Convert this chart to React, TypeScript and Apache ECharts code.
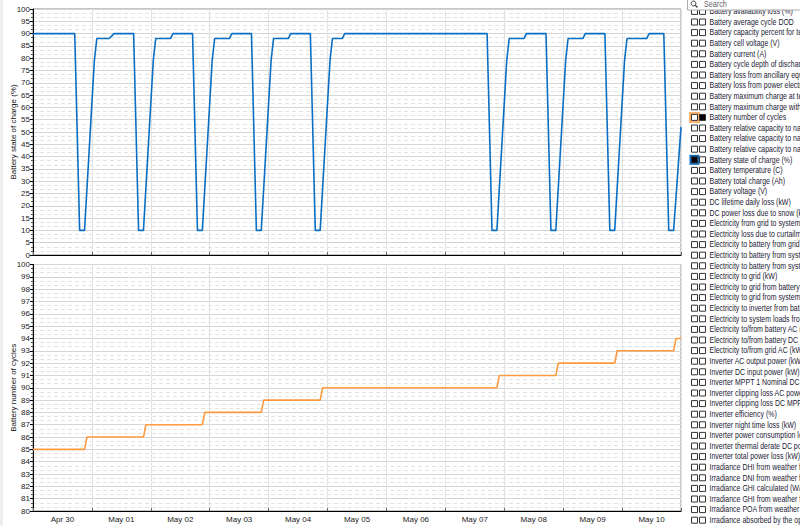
import { useEffect, useRef } from 'react';
import * as echarts from 'echarts';

// Time axis is in hours from Apr 30 00:00
const dayLabels = ['Apr 30', 'May 01', 'May 02', 'May 03', 'May 04', 'May 05', 'May 06', 'May 07', 'May 08', 'May 09', 'May 10'];

const socHours = [
    0, 17, 18, 19, 21, 25, 26, 31, 32, 33,
    41, 42, 43, 45, 49, 50, 56, 57,
    65, 66, 67, 69, 73, 74, 80, 81,
    89, 90, 91, 93, 97, 98, 104, 105,
    113, 114, 115, 117, 121, 122, 126, 127,
    185, 186, 187, 189, 193, 194, 200, 201,
    209, 210, 211, 213, 217, 218, 224, 225,
    233, 234, 235, 237, 241, 242, 250, 251,
    257, 258, 259, 261, 264,
];
const socValues = [
    90, 90, 50, 10, 10, 79, 88, 88, 89, 90,
    90, 50, 10, 10, 79, 88, 88, 90,
    90, 50, 10, 10, 79, 88, 88, 90,
    90, 50, 10, 10, 79, 88, 88, 90,
    90, 50, 10, 10, 79, 88, 88, 90,
    90, 50, 10, 10, 79, 88, 88, 90,
    90, 50, 10, 10, 79, 88, 88, 90,
    90, 50, 10, 10, 79, 88, 88, 90,
    90, 50, 10, 10, 52,
];

const cycleHours = [0, 21, 22, 45, 46, 69, 70, 93, 94, 117, 118, 189, 190, 213, 214, 237, 238, 261, 262, 264];
const cycleValues = [85, 85, 86, 86, 87, 87, 88, 88, 89, 89, 90, 90, 91, 91, 92, 92, 93, 93, 94, 94];

const variableNames = [
    'Battery availability loss (%)',
    'Battery average cycle DOD',
    'Battery capacity percent for temperature (%)',
    'Battery cell voltage (V)',
    'Battery current (A)',
    'Battery cycle depth of discharge (%)',
    'Battery loss from ancillary equipment (kW)',
    'Battery loss from power electronics (kW)',
    'Battery maximum charge at temperature (Ah)',
    'Battery maximum charge with degradation (Ah)',
    'Battery number of cycles',
    'Battery relative capacity to nameplate (%)',
    'Battery relative capacity to nameplate (calendar) (%)',
    'Battery relative capacity to nameplate (cycling) (%)',
    'Battery state of charge (%)',
    'Battery temperature (C)',
    'Battery total charge (Ah)',
    'Battery voltage (V)',
    'DC lifetime daily loss (kW)',
    'DC power loss due to snow (kW)',
    'Electricity from grid to system (kW)',
    'Electricity loss due to curtailment (kW)',
    'Electricity to battery from grid (kW)',
    'Electricity to battery from system (kW)',
    'Electricity to battery from system DC (kW)',
    'Electricity to grid (kW)',
    'Electricity to grid from battery (kW)',
    'Electricity to grid from system (kW)',
    'Electricity to inverter from battery (kW)',
    'Electricity to system loads from battery (kW)',
    'Electricity to/from battery AC (kW)',
    'Electricity to/from battery DC (kW)',
    'Electricity to/from grid AC (kW)',
    'Inverter AC output power (kW)',
    'Inverter DC input power (kW)',
    'Inverter MPPT 1 Nominal DC voltage (V)',
    'Inverter clipping loss AC power limit (kW)',
    'Inverter clipping loss DC MPPT voltage limits (kW)',
    'Inverter efficiency (%)',
    'Inverter night time loss (kW)',
    'Inverter power consumption loss (kW)',
    'Inverter thermal derate DC power loss (kW)',
    'Inverter total power loss (kW)',
    'Irradiance DHI from weather file (W/m2)',
    'Irradiance DNI from weather file (W/m2)',
    'Irradiance GHI calculated (W/m2)',
    'Irradiance GHI from weather file (W/m2)',
    'Irradiance POA from weather file (W/m2)',
    'Irradiance absorbed by the optics (W/m2)',
];

const topChecked = ['Battery state of charge (%)'];
const bottomChecked = ['Battery number of cycles'];

const BLUE = '#0a6fc4';
const ORANGE = '#ff9a40';
const FONT = "'Liberation Sans', Arial, sans-serif";

function makeXAxis(gridIndex: number, showLabels: boolean) {
    return {
        type: 'value' as const,
        gridIndex,
        min: 0,
        max: 264,
        interval: 24,
        axisLine: { show: true, onZero: false, lineStyle: { color: '#000', width: 1 } },
        axisTick: { show: true, inside: true, length: 3, lineStyle: { color: '#666' } },
        axisLabel: showLabels
            ? {
                show: true,
                customValues: dayLabels.map((_, i) => 12 + 24 * i),
                formatter: (v: number) => dayLabels[Math.round((v - 12) / 24)] ?? '',
                fontSize: 8,
                color: '#222',
                margin: 4,
                fontFamily: FONT,
            }
            : { show: false },
        splitLine: { show: true, lineStyle: { color: '#e2e2e2' } },
    };
}

function makeYAxis(gridIndex: number, min: number, max: number, interval: number, name: string) {
    return {
        type: 'value' as const,
        gridIndex,
        min,
        max,
        interval,
        name,
        nameLocation: 'middle' as const,
        nameGap: 16,
        nameMoveOverlap: false,
        nameRotate: 90,
        nameTextStyle: { fontSize: 8, color: '#111', fontFamily: FONT },
        axisLine: { show: true, lineStyle: { color: '#000' } },
        axisTick: { show: true, length: 3, lineStyle: { color: '#000' } },
        minorTick: { show: true, splitNumber: 3, length: 2, lineStyle: { color: '#555' } },
        axisLabel: { fontSize: 8, color: '#222', margin: 3, fontFamily: FONT },
        splitLine: { show: true, lineStyle: { color: '#d6d6d6' } },
        minorSplitLine: { show: true, lineStyle: { color: '#e2e2e2', type: [4, 3] } },
    };
}

function buildSidebar() {
    const items: any[] = [];
    const rowH = 10.6;
    variableNames.forEach((name, i) => {
        const cy = 11.4 + rowH * i;
        if (topChecked.includes(name)) {
            items.push({ type: 'rect', shape: { x: 689.5, y: cy - 5, width: 10, height: 10 }, style: { fill: BLUE } });
        }
        if (bottomChecked.includes(name)) {
            items.push({ type: 'rect', shape: { x: 690, y: cy - 4.5, width: 9, height: 9 }, style: { fill: 'none', stroke: ORANGE, lineWidth: 1.5 } });
        }
        items.push({
            type: 'rect',
            shape: { x: 691.5, y: cy - 3, width: 6, height: 6 },
            style: { fill: topChecked.includes(name) ? '#000' : '#fff', stroke: '#333', lineWidth: 1 },
        });
        items.push({
            type: 'rect',
            shape: { x: 699.5, y: cy - 3, width: 6, height: 6 },
            style: { fill: bottomChecked.includes(name) ? '#000' : '#fff', stroke: '#333', lineWidth: 1 },
        });
        items.push({
            type: 'text',
            x: 709.5,
            y: cy,
            scaleX: 0.82,
            style: { text: name, fill: '#1a1a33', fontSize: 8.5, fontFamily: FONT, verticalAlign: 'middle', align: 'left' },
        });
    });

    // search box on top
    items.push({ type: 'rect', z: 10, shape: { x: 687.5, y: -2, width: 120, height: 12 }, style: { fill: '#fff', stroke: '#aaa', lineWidth: 1 } });
    items.push({ type: 'circle', z: 11, shape: { cx: 693.5, cy: 3.5, r: 2.4 }, style: { fill: 'none', stroke: '#333', lineWidth: 1 } });
    items.push({ type: 'line', z: 11, shape: { x1: 695.2, y1: 5.2, x2: 697.5, y2: 7.5 }, style: { stroke: '#333', lineWidth: 1.2 } });
    items.push({ type: 'text', z: 11, x: 704, y: 4.2, scaleX: 0.85, style: { text: 'Search', fill: '#666', fontSize: 8.5, fontFamily: FONT, verticalAlign: 'middle' } });

    // light strip at the window's left edge
    items.push({ type: 'rect', z: -1, shape: { x: 0, y: 0, width: 3, height: 526 }, style: { fill: '#eeeeee' } });
    return items;
}

export default function App() {
    const chartRef = useRef<HTMLDivElement>(null);

    useEffect(() => {
        if (!chartRef.current) return;
        const chart = echarts.init(chartRef.current, null, { renderer: 'svg' });

        const option = {
            animation: false,
            backgroundColor: '#fff',
            grid: [
                { left: 33, top: 9, width: 648, height: 246, show: true, borderColor: '#8a8a8a', borderWidth: 1, containLabel: false, outerBoundsMode: 'none' },
                { left: 33, top: 264.5, width: 648, height: 246.5, show: true, borderColor: '#8a8a8a', borderWidth: 1, containLabel: false, outerBoundsMode: 'none' },
            ],
            xAxis: [makeXAxis(0, false), makeXAxis(1, true)],
            yAxis: [
                makeYAxis(0, 0, 100, 5, 'Battery state of charge (%)'),
                makeYAxis(1, 80, 100, 1, 'Battery number of cycles'),
            ],
            graphic: buildSidebar(),
            series: [
                {
                    name: 'Battery state of charge (%)',
                    type: 'line',
                    xAxisIndex: 0,
                    yAxisIndex: 0,
                    data: socHours.map((h, i) => [h, socValues[i]]),
                    showSymbol: false,
                    silent: true,
                    lineStyle: { color: BLUE, width: 1.6 },
                    itemStyle: { color: BLUE },
                },
                {
                    name: 'Battery number of cycles',
                    type: 'line',
                    xAxisIndex: 1,
                    yAxisIndex: 1,
                    data: cycleHours.map((h, i) => [h, cycleValues[i]]),
                    showSymbol: false,
                    silent: true,
                    lineStyle: { color: ORANGE, width: 1.6 },
                    itemStyle: { color: ORANGE },
                },
            ],
        };

        chart.setOption(option as any);

        return () => {
            chart.dispose();
        };
    }, []);

    return (
        <div
            ref={chartRef}
            style={{ position: 'fixed', left: 0, top: 0, width: '800px', height: '526px', background: '#fff' }}
        />
    );
}
